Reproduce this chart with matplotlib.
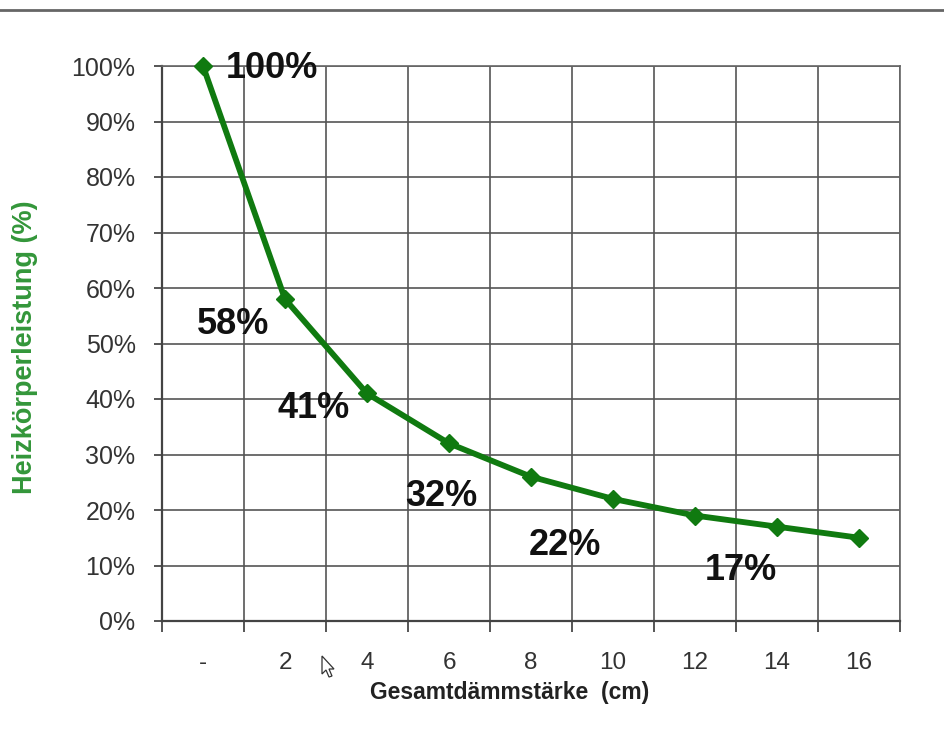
import matplotlib
matplotlib.use("Agg")
import matplotlib.pyplot as plt
from matplotlib.lines import Line2D
from matplotlib.patches import Polygon
import numpy as np

plt.rcParams['font.family'] = ['Liberation Sans', 'DejaVu Sans']

# Insulation thickness categories and relative radiator output
categories = ["-", "2", "4", "6", "8", "10", "12", "14", "16"]
output_pct = [100, 58, 41, 32, 26, 22, 19, 17, 15]

# Points that carry a percentage label
labelled_idx = [0, 1, 2, 3, 5, 7]

y_ticks = [0, 10, 20, 30, 40, 50, 60, 70, 80, 90, 100]
y_tick_labels = [f"{v}%" for v in y_ticks]

# label placement, offset from the point in pixels
label_offsets = {0: (69, -2), 1: (-52, -25), 2: (-53, -15),
                 3: (-8, -53), 5: (-48, -47), 7: (-36, -44)}

W, H = 944, 738
fig = plt.figure(figsize=(W / 100, H / 100), dpi=100)
ax = fig.add_axes([162 / W, 1 - 621 / H, (900 - 162) / W, (621 - 66) / H])

x = np.arange(len(categories))
green = "#107a10"
ax.plot(x, output_pct, color=green, lw=4.2, marker="D", ms=9.5,
        markerfacecolor=green, markeredgecolor=green, zorder=5,
        solid_joinstyle="round", clip_on=False)

for i in labelled_idx:
    dx, dy = label_offsets[i]
    ax.annotate(f"{output_pct[i]}%", (x[i], output_pct[i]),
                xytext=(dx, dy), textcoords="offset pixels",
                ha="center", va="center", fontsize=26, fontweight="bold",
                color="#111111", zorder=6)

ax.set_xlim(-0.5, len(categories) - 0.5)
ax.set_ylim(0, 100)

ax.set_xticks(x)
ax.set_xticklabels(categories)
ax.set_xticks(np.arange(-0.5, len(categories)), minor=True)
ax.tick_params(axis="x", which="major", length=0, pad=22,
               labelsize=17.5, labelcolor="#333333")
ax.tick_params(axis="x", which="minor", length=8, width=1.4,
               color="#555555", direction="out")

ax.set_yticks(y_ticks)
ax.set_yticklabels(y_tick_labels)
ax.tick_params(axis="y", length=6, width=1.4, color="#555555",
               labelsize=18, labelcolor="#333333", pad=13)

ax.grid(True, which="minor", axis="x", color="#555555", lw=1.2)
ax.grid(True, which="major", axis="y", color="#555555", lw=1.2)
ax.set_axisbelow(True)

for side in ["left", "bottom"]:
    ax.spines[side].set_color("#444444")
    ax.spines[side].set_linewidth(1.6)
for side in ["top", "right"]:
    ax.spines[side].set_color("#666666")
    ax.spines[side].set_linewidth(1.2)

ax.set_xlabel("Gesamtdämmstärke  (cm)", fontsize=16.5, fontweight="bold",
              color="#222222")
ax.xaxis.set_label_coords((510 - 162) / (900 - 162), -(693 - 621) / (621 - 66))
ax.xaxis.label.set_va("center")

ax.set_ylabel("Heizkörperleistung (%)", fontsize=19.5, fontweight="bold",
              color="#33963a")
ax.yaxis.set_label_coords(-(162 - 25) / (900 - 162), (621 - 347) / (621 - 66))
ax.yaxis.label.set_va("center")

# thin rule across the top of the page
fig.add_artist(Line2D([0, 1], [1 - 10 / H, 1 - 10 / H], color="#666666", lw=2))

# mouse pointer
px, py = 322, 656
pts = [(0, 0), (0, 18), (4, 14), (7, 21), (10, 20), (7, 13), (12, 13)]
fig.add_artist(Polygon([((px + a) / W, 1 - (py + b) / H) for a, b in pts],
                       closed=True, facecolor="white", edgecolor="#333333",
                       lw=0.9, transform=fig.transFigure))

fig.savefig("out.png", dpi=100, facecolor="white")
